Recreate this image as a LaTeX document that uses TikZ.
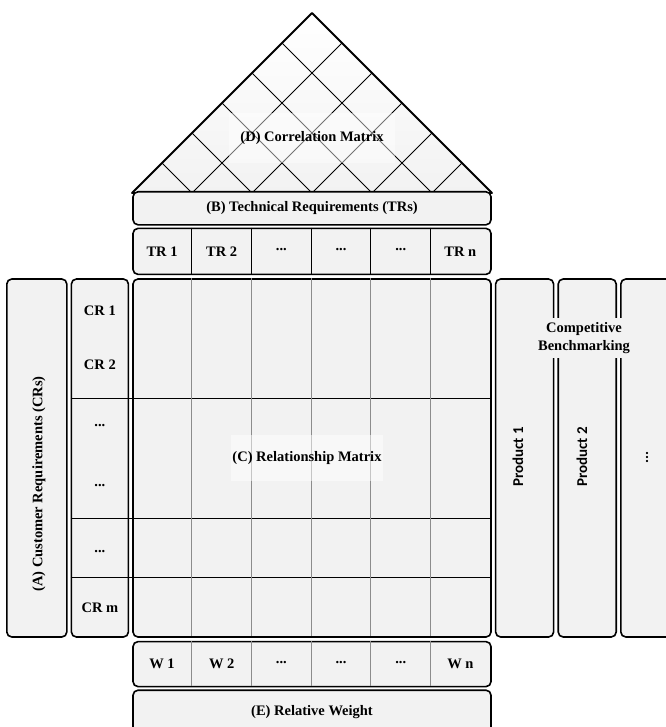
\documentclass[tikz,border=0pt]{standalone}
\usepackage{fontspec}
\setmainfont{Liberation Serif}
\newfontfamily\prodfont{Carlito}
\usetikzlibrary{positioning}
\definecolor{panelfill}{HTML}{F2F2F2}
\definecolor{gridgray}{HTML}{8C8C8C}
\newcommand{\mdots}{\raisebox{4pt}{...}}

\begin{document}
\begin{tikzpicture}[x=1pt,y=-1pt,node distance=3pt,
  panel/.style={draw,line width=1.6pt,rounded corners=5pt,fill=panelfill,inner sep=0pt},
  lbl/.style={font=\bfseries\fontsize{14.5}{17.7}\selectfont},
  prod/.style={font=\prodfont\bfseries\fontsize{15}{18}\selectfont,rotate=90},
  cell/.style={line width=0.8pt},
  gridline/.style={line width=0.8pt,draw=gridgray}]
\useasboundingbox (0,0) rectangle (665,727);

% roof: correlation matrix
\shade[top color=white,bottom color=panelfill] (132,193) -- (312,13) -- (492,193) -- cycle;
\begin{scope}
  \clip (132,193) -- (312,13) -- (492,193) -- cycle;
  \foreach \k in {1,...,5}
    \draw[cell] (132+60*\k,193) -- ++(-180,-180) (132+60*\k,193) -- ++(180,-180);
\end{scope}
\draw[line width=1.8pt,line join=round] (132,193) -- (312,13) -- (492,193) -- cycle;
\node[lbl,fill=white,fill opacity=0.45,text opacity=1,inner xsep=11pt,inner ysep=18pt] (corrm) at (312,138) {(D) Correlation Matrix};

% body panels
\node[panel,minimum width=358pt,minimum height=358pt] (relm) at (312,458) {};
\node[panel,minimum width=358pt,minimum height=46pt,above=of relm] (trrow) {};
\node[panel,lbl,minimum width=358pt,minimum height=33pt,above=2pt of trrow] (techreq) {(B) Technical Requirements (TRs)};
\node[panel,minimum width=358pt,minimum height=45pt,below=of relm] (wrow) {};
\node[panel,lbl,minimum width=358pt,minimum height=44pt,below=2pt of wrow] (relw) {(E) Relative Weight};
\node[panel,minimum width=57pt,minimum height=358pt,left=of relm] (crcol) {};
\node[panel,minimum width=60pt,minimum height=358pt,left=of crcol] (custreq) {};
\node[panel,minimum width=58pt,minimum height=358pt,right=of relm] (prod1) {};
\node[panel,minimum width=58pt,minimum height=358pt,right=of prod1] (prod2) {};
\node[panel,minimum width=60pt,minimum height=358pt,right=of prod2] (prod3) {};

% grid rules
\foreach \ry in {398,518,577}
  \draw[cell] (crcol.west |- 0,\ry) -- (relm.east |- 0,\ry);
\foreach \k in {1,...,5} {
  \draw[gridline] (relm.north west) ++({59.67*\k},0) -- ++(0,358);
  \draw[cell] (trrow.north west) ++({59.67*\k},0) -- ++(0,46);
  \draw[gridline] (wrow.north west) ++({59.67*\k},0) -- ++(0,45);
}

% labels
\foreach \t [count=\i] in {TR 1,TR 2,\mdots,\mdots,\mdots,TR n}
  \path (trrow.west) ++({59.67*\i-29.83},0) node[lbl] (tr\i) {\t};
\foreach \t [count=\i] in {W 1,W 2,\mdots,\mdots,\mdots,W n}
  \path (wrow.west) ++({59.67*\i-29.83},0) node[lbl] (w\i) {\t};
\foreach \t/\cy [count=\i] in {CR 1/311,CR 2/365,\mdots/427,\mdots/487,\mdots/553,CR m/608}
  \node[lbl] (cr\i) at (crcol.center |- 0,\cy) {\t};
\node[lbl,rotate=90] (custlbl) at (39,484) {(A) Customer Requirements (CRs)};
\node[lbl,fill=white,fill opacity=0.5,text opacity=1,inner xsep=1pt,inner ysep=16pt] (relmlbl) at (307,458) {(C) Relationship Matrix};
\node[lbl,fill=panelfill,align=center,inner xsep=10pt,inner ysep=5pt] (compbm) at (584,338) {Competitive\\Benchmarking};
\node[prod] (p1lbl) at (518,457) {Product 1};
\node[prod] (p2lbl) at (582,457) {Product 2};
\node[prod] (p3lbl) at (647,457) {...};
\end{tikzpicture}
\end{document}
